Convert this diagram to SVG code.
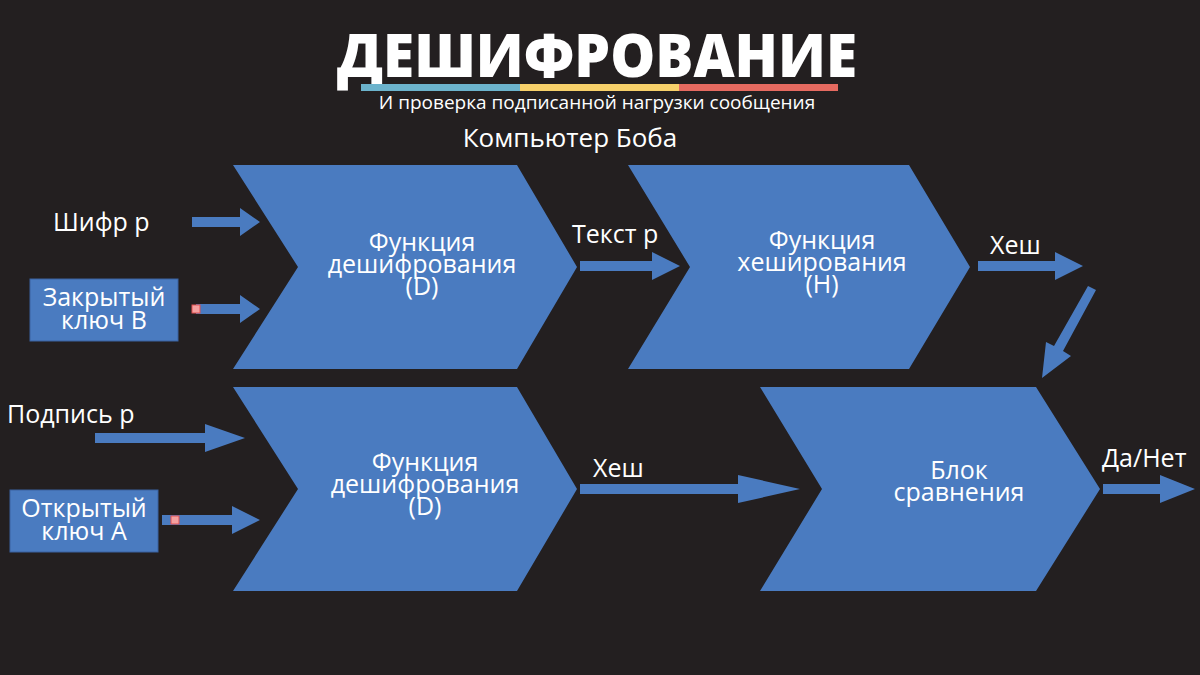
<svg xmlns="http://www.w3.org/2000/svg" width="1200" height="675" viewBox="0 0 1200 675">
<style>
.t{font-family:"Open Sans","Noto Sans",sans-serif;fill:#fff}
.n{fill:#4a7bc0}
.l{font-size:25px}
.c{font-size:25px;text-anchor:middle}
</style>
<rect width="1200" height="675" fill="#231f20"/>
<text class="t" x="597" y="77" font-size="60" font-weight="800" text-anchor="middle" textLength="520" lengthAdjust="spacingAndGlyphs">ДЕШИФРОВАНИЕ</text>
<rect x="361" y="84" width="159" height="7" fill="#6cb3cc"/>
<rect x="520" y="84" width="159" height="7" fill="#f7d06a"/>
<rect x="679" y="84" width="159" height="7" fill="#e56a60"/>
<text class="t" x="597" y="109" font-size="19" text-anchor="middle">И проверка подписанной нагрузки сообщения</text>
<text class="t" x="570" y="147" font-size="26" text-anchor="middle">Компьютер Боба</text>
<g id="dec1"><polygon class="n" points="233,165 517,165 577,267 517,369 233,369 298,267"/>
<text class="t c" x="422" y="251">Функция</text><text class="t c" x="422" y="273">дешифрования</text><text class="t c" x="422" y="295">(D)</text></g>
<g id="hash"><polygon class="n" points="628,165 909,165 970,267 909,369 628,369 690,267"/>
<text class="t c" x="822" y="249">Функция</text><text class="t c" x="822" y="271">хеширования</text><text class="t c" x="822" y="293">(H)</text></g>
<g id="dec2"><polygon class="n" points="233,387 517,387 577,489 517,591 233,591 298,489"/>
<text class="t c" x="425" y="471">Функция</text><text class="t c" x="425" y="493">дешифрования</text><text class="t c" x="425" y="515">(D)</text></g>
<g id="cmp"><polygon class="n" points="760,387 1036,387 1100,489 1036,591 760,591 822,489"/>
<text class="t c" x="959" y="479">Блок</text><text class="t c" x="959" y="501">сравнения</text></g>
<g id="privkey"><rect class="n" x="30" y="279" width="148" height="62" stroke="#3a62a0"/>
<text class="t c" x="104" y="306">Закрытый</text><text class="t c" x="104" y="329">ключ B</text></g>
<g id="pubkey"><rect class="n" x="10" y="490" width="148" height="62" stroke="#3a62a0"/>
<text class="t c" x="84" y="517">Открытый</text><text class="t c" x="84" y="540">ключ A</text></g>
<text class="t l" x="53" y="231">Шифр p</text>
<text class="t l" x="7" y="423">Подпись p</text>
<text class="t l" x="572" y="243">Текст p</text>
<text class="t l" x="990" y="254">Хеш</text>
<text class="t l" x="593" y="477">Хеш</text>
<text class="t l" x="1102" y="467">Да/Нет</text>
<g id="connectors" class="n">
<path d="M192,217H240V208L260,222L240,236V227H192Z"/>
<path d="M196,304H240V295L260,309L240,323V314H196Z"/>
<path d="M580,261H652V252L680,266L652,280V271H580Z"/>
<path d="M978,261H1055V252L1083,266L1055,280V271H978Z"/>
<path d="M1088,286L1096,290L1063,351L1071,356L1042,378L1046,342L1054,346Z"/>
<path d="M95,433H205V424L245,438L205,452V443H95Z"/>
<path d="M162,515H232V506L260,520L232,534V525H162Z"/>
<path d="M580,484H738V475L800,489L738,503V494H580Z"/>
<path d="M1103,484H1160V475L1195,489L1160,503V494H1103Z"/>
</g>
<rect x="192" y="305" width="8" height="8" fill="#f4a0a0" stroke="#e05050"/>
<rect x="171" y="516" width="8" height="8" fill="#f4a0a0" stroke="#e05050"/>
</svg>
